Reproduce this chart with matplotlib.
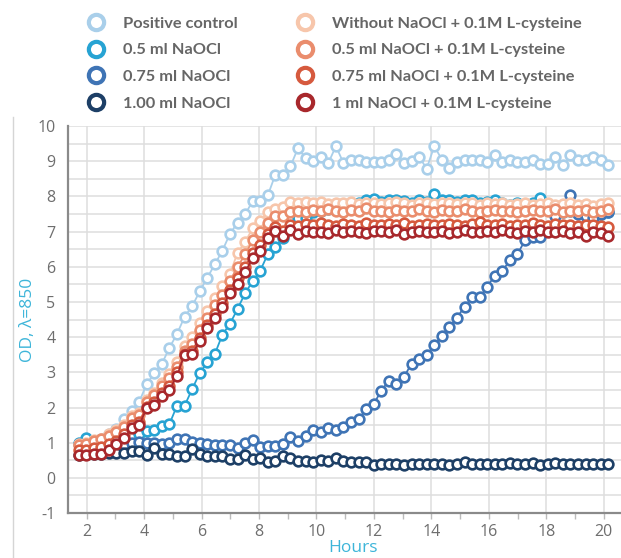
import numpy as np
import matplotlib
matplotlib.use("Agg")
import matplotlib.pyplot as plt
from matplotlib.lines import Line2D
from matplotlib.ticker import MultipleLocator

# sampling times (h), one reading roughly every 16 min
hours = np.round(1.72 + 0.2634 * np.arange(71), 3)

pos_ctrl = [0.95, 1.0, 1.05, 1.1, 1.25, 1.4, 1.68, 1.9, 2.16, 2.67,
            2.97, 3.24, 3.7, 4.09, 4.58, 4.88, 5.3, 5.69, 6.07, 6.46,
            6.94, 7.25, 7.49, 7.87, 7.87, 8.03, 8.62, 8.62, 8.86, 9.38,
            9.08, 9.01, 9.13, 8.95, 9.43, 8.95, 9.05, 9.05, 8.97, 8.97,
            8.97, 9.05, 9.2, 8.95, 9.01, 9.13, 8.79, 9.43, 9.05, 8.82,
            8.97, 9.05, 9.05, 9.05, 8.97, 9.17, 8.97, 9.05, 8.97, 8.97,
            9.05, 8.93, 8.91, 9.13, 8.89, 9.17, 9.05, 9.05, 9.13, 9.05,
            8.89]
naocl_050 = [1.0, 1.12, 1.0, 1.0, 1.0, 1.1, 1.15, 1.2, 1.24, 1.33,
             1.36, 1.48, 1.53, 2.05, 2.05, 2.52, 2.98, 3.28, 3.52, 4.07,
             4.38, 4.8, 5.25, 5.59, 5.89, 6.36, 6.55, 6.82, 7.1, 7.4,
             7.4, 7.55, 7.6, 7.65, 7.7, 7.65, 7.75, 7.8, 7.9, 7.93,
             7.85, 7.9, 7.89, 7.87, 7.82, 7.9, 7.85, 8.06, 7.9, 7.9,
             7.85, 7.9, 7.9, 7.8, 7.85, 7.9, 7.8, 7.75, 7.8, 7.75,
             7.8, 7.95, 7.7, 7.6, 7.55, 7.6, 7.55, 7.5, 7.55, 7.5,
             7.55]
naocl_075 = [0.95, 0.95, 1.0, 1.0, 1.0, 1.0, 0.97, 1.0, 1.02, 0.98,
             1.0, 0.95, 1.0, 1.1, 1.1, 1.02, 1.0, 0.96, 0.93, 0.93,
             0.93, 0.86, 1.0, 1.07, 0.88, 0.91, 0.9, 0.96, 1.15, 1.05,
             1.2, 1.35, 1.29, 1.41, 1.36, 1.45, 1.6, 1.67, 1.95, 2.1,
             2.48, 2.76, 2.67, 2.87, 3.25, 3.38, 3.5, 3.77, 4.03, 4.28,
             4.55, 4.87, 5.13, 5.13, 5.44, 5.75, 5.89, 6.18, 6.37, 6.75,
             6.84, 6.86, 7.13, 7.45, 7.65, 8.03, 7.5, 7.45, 7.4, 7.5,
             7.55]
naocl_100 = [0.66, 0.68, 0.68, 0.68, 0.7, 0.72, 0.7, 0.75, 0.75, 0.66,
             0.84, 0.68, 0.68, 0.62, 0.62, 0.81, 0.68, 0.62, 0.62, 0.62,
             0.53, 0.53, 0.66, 0.53, 0.57, 0.46, 0.48, 0.62, 0.57, 0.49,
             0.49, 0.46, 0.5, 0.48, 0.56, 0.47, 0.46, 0.45, 0.45, 0.37,
             0.38, 0.39, 0.38, 0.37, 0.38, 0.38, 0.38, 0.38, 0.39, 0.37,
             0.39, 0.45, 0.4, 0.39, 0.39, 0.38, 0.38, 0.43, 0.4, 0.4,
             0.42, 0.36, 0.4, 0.42, 0.38, 0.38, 0.4, 0.39, 0.39, 0.39,
             0.38]
cys_000 = [0.95, 1.0, 1.08, 1.1, 1.25, 1.35, 1.5, 1.75, 1.85, 2.2,
           2.4, 2.7, 2.95, 3.3, 3.75, 4.0, 4.4, 4.75, 5.1, 5.45,
           5.8, 6.4, 6.7, 7.1, 7.3, 7.55, 7.65, 7.7, 7.85, 7.82,
           7.85, 7.8, 7.85, 7.78, 7.82, 7.8, 7.85, 7.78, 7.8, 7.82,
           7.78, 7.8, 7.85, 7.8, 7.75, 7.82, 7.8, 7.78, 7.82, 7.8,
           7.78, 7.8, 7.82, 7.75, 7.8, 7.78, 7.8, 7.75, 7.78, 7.8,
           7.75, 7.78, 7.8, 7.75, 7.78, 7.8, 7.75, 7.78, 7.72, 7.78,
           7.82]
cys_050 = [0.92, 0.95, 1.05, 1.1, 1.2, 1.3, 1.45, 1.7, 1.8, 2.15,
           2.35, 2.6, 2.85, 3.15, 3.6, 3.8, 4.2, 4.55, 4.9, 5.2,
           5.6, 6.0, 6.35, 6.75, 7.0, 7.25, 7.45, 7.45, 7.55, 7.6,
           7.55, 7.62, 7.58, 7.65, 7.6, 7.55, 7.62, 7.6, 7.68, 7.58,
           7.6, 7.55, 7.62, 7.6, 7.58, 7.65, 7.6, 7.55, 7.62, 7.6,
           7.58, 7.63, 7.6, 7.55, 7.6, 7.62, 7.58, 7.6, 7.55, 7.6,
           7.62, 7.58, 7.6, 7.65, 7.55, 7.6, 7.58, 7.62, 7.55, 7.6,
           7.65]
cys_075 = [0.78, 0.8, 0.85, 0.88, 0.95, 1.05, 1.25, 1.5, 1.6, 2.02,
           2.15, 2.4, 2.62, 3.0, 3.52, 3.62, 3.98, 4.35, 4.65, 4.98,
           5.35, 5.68, 6.0, 6.4, 6.62, 6.92, 7.12, 7.02, 7.18, 7.15,
           7.22, 7.18, 7.25, 7.2, 7.17, 7.22, 7.2, 7.15, 7.24, 7.2,
           7.18, 7.22, 7.2, 7.25, 7.17, 7.2, 7.22, 7.18, 7.2, 7.23,
           7.2, 7.17, 7.22, 7.28, 7.2, 7.18, 7.22, 7.15, 7.2, 7.18,
           7.25, 7.2, 7.17, 7.22, 7.19, 7.2, 7.15, 7.18, 7.2, 7.17,
           7.12]
cys_100 = [0.65, 0.65, 0.67, 0.67, 0.8, 0.95, 1.12, 1.42, 1.5, 1.98,
           2.08, 2.32, 2.5, 2.9, 3.5, 3.52, 3.88, 4.25, 4.55, 4.85,
           5.25, 5.52, 5.85, 6.25, 6.46, 6.83, 7.03, 6.89, 7.05, 6.94,
           7.03, 6.99, 7.0, 6.97, 7.04, 6.98, 7.02, 7.0, 6.95, 7.03,
           7.01, 6.98, 7.05, 6.92, 7.0, 7.03, 6.98, 7.0, 7.02, 6.97,
           7.0, 7.04, 6.99, 7.0, 7.02, 6.98, 7.05, 7.0, 6.97, 7.02,
           6.98, 7.04, 7.0, 6.99, 7.02, 6.96, 7.0, 6.88, 7.0, 6.97,
           6.89]

blue_labels = ["Positive control", "0.5 ml NaOCl", "0.75 ml NaOCl", "1.00 ml NaOCl"]
red_labels = ["Without NaOCl + 0.1M L-cysteine", "0.5 ml NaOCl + 0.1M L-cysteine",
              "0.75 ml NaOCl + 0.1M L-cysteine", "1 ml NaOCl + 0.1M L-cysteine"]
blue_colors = ["#a9cfea", "#27a3d3", "#3f74b5", "#1d3f66"]
red_colors = ["#f7c6ab", "#ea8d6d", "#d65a3e", "#a8282c"]

blue_series = [pos_ctrl, naocl_050, naocl_075, naocl_100]
red_series = [cys_000, cys_050, cys_075, cys_100]

TICK_GRAY = "#6e6e6e"
CYAN = "#3db5d9"

plt.rcParams["axes.unicode_minus"] = False
plt.rcParams["font.family"] = ["Open Sans", "DejaVu Sans"]

fig = plt.figure(figsize=(6.21, 5.58), dpi=100)
ax = fig.add_axes([0.1095, 0.0806, 0.8905, 0.6934])

for vals, col in zip(blue_series + red_series, blue_colors + red_colors):
    ax.plot(hours, vals, color=col, lw=1.3, marker="o", ms=7.0,
            mfc="white", mec=col, mew=1.9)

ax.set_xlim(1.35, 20.6)
ax.set_ylim(-1, 10)
ax.xaxis.set_major_locator(MultipleLocator(2))
ax.xaxis.set_minor_locator(MultipleLocator(1))
ax.yaxis.set_major_locator(MultipleLocator(1))
ax.yaxis.set_minor_locator(MultipleLocator(0.5))
ax.grid(True, which="major", axis="x", color="#dedede", lw=1.1)
ax.grid(True, which="both", axis="y", color="#dedede", lw=1.1)
ax.set_axisbelow(True)

for side in ("top", "right"):
    ax.spines[side].set_visible(False)
for side in ("left", "bottom"):
    ax.spines[side].set_color("#8a8a8a")
    ax.spines[side].set_linewidth(1.6)

ax.tick_params(axis="y", which="both", length=0, pad=9, labelsize=11.5, labelcolor=TICK_GRAY)
ax.tick_params(axis="x", which="both", length=4, width=1, color="#bbbbbb", pad=4,
               labelsize=11.5, labelcolor=TICK_GRAY)

ax.set_xlabel("Hours", color=CYAN, fontsize=12.5)
ax.xaxis.set_label_coords(0.515, -0.07)
ax.set_ylabel("OD, λ=850", color=CYAN, fontsize=12.5)
ax.yaxis.set_label_coords(-0.057, 0.5)

# two-column legend at the top
def make_handles(colors):
    return [Line2D([], [], ls="none", marker="o", ms=11, mfc="white", mec=c, mew=3.0)
            for c in colors]

leg_kw = dict(frameon=False, handlelength=1.0, handletextpad=1.15, labelspacing=0.75,
              prop={"family": "Lato", "weight": "bold", "size": 11.8}, labelcolor="#666666",
              borderpad=0, borderaxespad=0)
fig.legend(make_handles(blue_colors), blue_labels, loc="upper left",
           bbox_to_anchor=(0.1414, 0.971), **leg_kw)
fig.legend(make_handles(red_colors), red_labels, loc="upper left",
           bbox_to_anchor=(0.478, 0.971), **leg_kw)

# faint frame line at the left edge of the original panel
fig.add_artist(Line2D([0.021, 0.021], [0.0, 0.79], color="#d5d5d5", lw=1))

fig.savefig("out.png", dpi=100)
